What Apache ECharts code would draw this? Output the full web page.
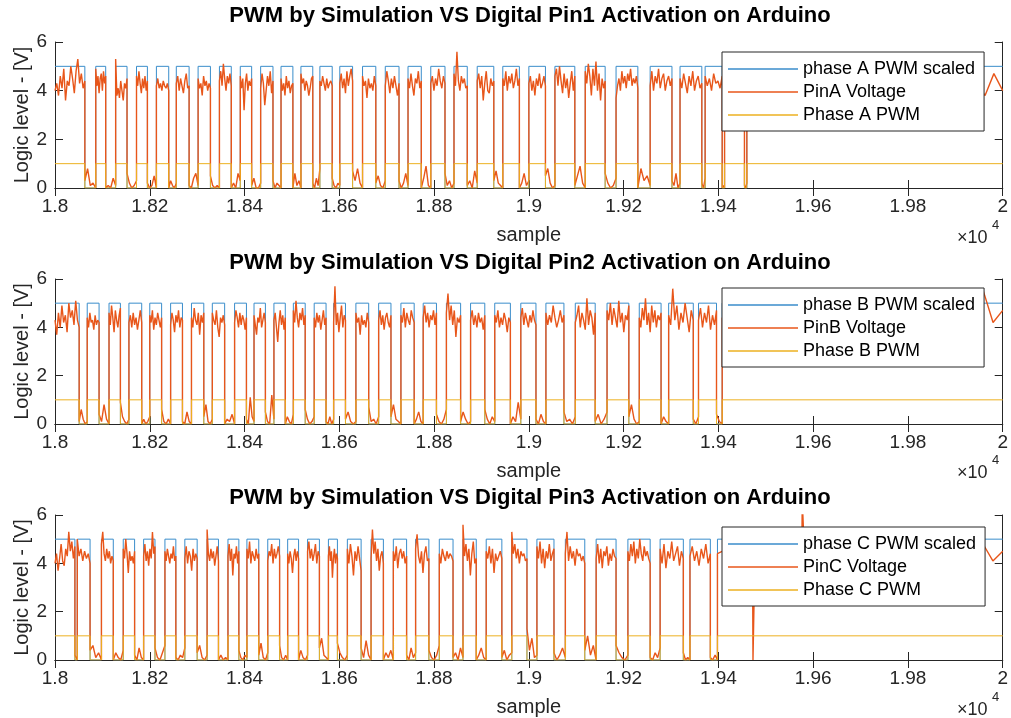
<!DOCTYPE html>
<html><head><meta charset="utf-8">
<script src="https://cdn.jsdelivr.net/npm/echarts@6/dist/echarts.min.js"></script>
<style>html,body{margin:0;padding:0;background:#fff}#c{width:1011px;height:718px}</style>
</head><body><div id="c"></div><script>
// ---------- DATA ----------
const X_MIN = 18000, X_MAX = 20000, X_STEP = 200;
const xTickLabels = ['1.8','1.82','1.84','1.86','1.88','1.9','1.92','1.94','1.96','1.98','2'];
const yTickLabels = ['0','2','4','6'];
const titles = [
  'PWM by Simulation VS Digital Pin1 Activation on Arduino',
  'PWM by Simulation VS Digital Pin2 Activation on Arduino',
  'PWM by Simulation VS Digital Pin3 Activation on Arduino'
];
const namesA = ['phase A PWM scaled','PinA Voltage','Phase A PWM'];
const namesB = ['phase B PWM scaled','PinB Voltage','Phase B PWM'];
const namesC = ['phase C PWM scaled','PinC Voltage','Phase C PWM'];

// low intervals of the PWM (sample index where it falls, where it rises again)
const gapsA = [[18063,18086],[18107,18128],[18152,18172],[18195,18214],[18240,18256],[18283,18302],[18328,18347],[18372,18391],[18415,18434],[18460,18477],[18502,18519],[18544,18559],[18585,18601],[18628,18649],[18677,18697],[18726,18745],[18773,18793],[18823,18842],[18870,18891],[18926,18945],[18980,19000],[19035,19055],[19097,19119],[19161,19184],[19230,19256],[19302,19319],[19365,19372],[19408,19413],[19455,19460]];
const gapsB = [[18051,18068],[18093,18114],[18138,18156],[18183,18200],[18225,18244],[18269,18288],[18314,18332],[18358,18379],[18404,18420],[18444,18462],[18486,18503],[18528,18547],[18572,18588],[18613,18635],[18662,18683],[18709,18730],[18758,18777],[18805,18826],[18856,18877],[18907,18928],[18961,18983],[19015,19036],[19074,19098],[19140,19165],[19211,19233],[19279,19295],[19347,19358],[19396,19408]];
const gapsC = [[18042,18047],[18074,18098],[18123,18144],[18168,18187],[18211,18232],[18255,18274],[18300,18321],[18345,18365],[18388,18405],[18430,18449],[18474,18491],[18514,18533],[18558,18577],[18596,18617],[18646,18667],[18693,18714],[18742,18761],[18789,18811],[18840,18861],[18889,18910],[18943,18964],[18996,19017],[19053,19077],[19118,19142],[19184,19209],[19256,19277],[19326,19340],[19383,19398]];

// measured pin voltages while the PWM is high (one list per high stretch)
const pinHighA = [
[4.0,4.3,3.8,4.6,4.1,4.9,3.6,4.4,4.2,5.0,4.5,3.9,4.8,5.3,4.3,4.7,4.1,4.4],
[4.9,4.2,4.6,3.9,4.5,4.7,4.0,4.8,4.3,4.6],
[5.3,3.8,4.1,3.7,4.4,4.0,3.6,4.3,4.1,4.5],
[4.6,4.2,4.8,4.3,3.9,4.5,4.1,4.6,4.0,4.4],
[4.2,4.5,4.1,4.3,4.0,4.4,4.2,4.1,4.3,4.0],
[4.3,4.6,4.0,4.5,4.2,3.9,4.4,4.7,4.1,4.2],
[4.5,4.1,4.3,3.8,4.6,4.2,4.4,4.0,4.3,4.1],
[4.4,4.8,4.2,5.1,4.5,4.0,4.6,4.3,4.7,4.2],
[4.6,4.1,4.5,3.2,4.3,4.7,4.0,4.4,4.2,4.5],
[4.1,4.7,4.3,3.4,4.0,4.6,4.2,4.8,3.9,4.4],
[4.5,4.0,4.3,3.8,4.6,4.1,4.4,3.9,4.2,4.3],
[4.7,4.3,4.5,4.0,4.4,4.2,3.8,4.1,4.5,4.6],
[4.4,4.2,4.6,4.3,4.0,4.5,4.1,4.3,4.4,4.2],
[4.3,4.7,4.1,4.5,3.9,4.8,4.2,4.6,4.9,4.4],
[4.6,4.2,4.4,3.7,4.5,4.1,4.3,4.0,4.6,4.2],
[4.2,4.8,4.4,3.9,4.5,4.1,4.6,4.2,3.8,4.3],
[4.5,4.1,4.7,4.2,3.8,4.5,4.3,4.8,4.1,4.4],
[4.3,4.6,4.0,4.5,4.2,4.9,4.4,4.1,4.6,4.3],
[4.7,4.2,5.6,4.4,4.0,4.6,4.3,4.5,4.1,4.2],
[4.4,4.7,4.1,4.6,3.6,4.3,4.8,4.0,3.9,4.5,4.2,4.4],
[4.5,4.2,4.8,4.0,4.6,4.3,4.7,4.1,4.4,4.9,4.2,4.5],
[4.3,4.6,4.0,4.4,3.8,4.5,4.2,4.7,4.1,4.3,4.6,4.2],
[4.6,4.9,4.2,5.0,4.4,3.9,4.7,4.1,4.5,3.7,4.3,4.8,4.0,4.6],
[4.8,4.3,5.1,4.6,3.8,4.9,4.2,5.2,4.0,4.7,3.6,4.5,4.1,4.4],
[3.7,4.2,4.5,4.0,4.8,4.3,4.6,4.1,4.7,4.4,4.9,4.2,4.5,4.3,4.6,4.1],
[4.2,4.8,4.0,4.6,4.3,4.9,4.1,4.5,4.7,4.0,4.4,4.6,4.2,4.5],
[4.5,4.1,4.7,4.3,3.9,4.6,4.2,4.8,4.0,4.4,4.6,4.1,4.3],
[4.6,4.2,4.5,4.0,4.7,4.3,4.4,4.1,4.6],
[4.3,4.7,4.1,4.5,4.2,4.8,4.4,4.0,4.6,4.3],
[4.2,4.6,4.0,4.5,4.3,4.7,4.1,4.4,4.6,4.2,4.5,4.0,4.3,4.7,4.4,4.1,4.6,4.3,4.5,4.2,4.8,4.4,3.9,4.6,4.2,5.4,4.3,3.8,4.7,4.0]
];
// measured pin voltages while the PWM is low
const pinLowA = [
[0.3,0.8,0.1,0.2,0.0],[0.0,0.1,0.0,0.4,0.1],[0.6,0.2,0.0,0.1,0.3],[0.2,0.0,0.1,0.5,0.0],[0.0,0.3,0.1,0.0,0.2],
[0.1,0.0,0.4,0.6,0.1],[0.5,0.1,0.0,0.1,0.0],[0.0,0.2,0.0,0.6,0.3],[0.1,0.4,0.0,0.0,0.2],[0.3,0.0,0.2,0.1,0.0],
[0.0,0.6,0.1,0.3,0.0],[0.2,0.0,0.4,0.1,0.8],[0.4,0.1,0.0,0.2,0.1],[0.7,0.3,0.8,0.2,0.0],[0.2,0.5,0.1,0.0,0.3],
[0.3,0.0,0.2,0.6,0.1],[0.0,0.4,0.9,0.1,0.0],[0.6,0.1,0.3,0.0,0.2],[0.1,0.3,0.0,0.7,0.2],[0.3,0.7,0.2,0.1,0.0],
[0.0,0.2,0.6,0.1,0.3],[0.5,0.8,0.2,0.0,0.1],[0.1,0.5,0.9,0.2,0.0],[0.6,0.2,0.0,0.1,0.4],[0.0,0.8,0.3,0.5,0.1],
[0.3,0.1,0.6,0.0,0.2],[0.2,0.0,0.4],[0.0,0.1,0.0],[0.1,0.0,0.2]
];
const pinHighB = [
[4.3,3.7,4.6,4.0,4.9,4.2,4.5,3.8,5.0,4.4,4.7,4.1,5.1,4.3,4.0],
[4.4,4.0,4.6,4.2,4.3,3.9,4.5,4.1,4.3,4.2],
[4.6,4.1,4.9,4.4,3.8,4.7,4.3,4.0,4.5,4.8],
[4.2,4.5,4.0,4.6,4.1,4.4,3.9,4.3,4.7,4.2],
[4.5,4.2,4.7,3.9,4.4,4.1,4.6,4.3,4.0,4.4],
[4.1,4.6,4.3,3.8,4.5,4.2,4.7,4.0,4.4,4.3],
[4.4,4.0,4.8,4.3,4.1,4.6,3.7,4.5,4.2,4.6],
[4.6,4.3,4.1,4.7,4.0,3.6,4.4,4.2,4.5,4.1],
[4.2,4.7,4.4,4.0,4.6,4.1,4.5,4.3,3.9,4.4],
[4.5,4.1,3.7,4.4,4.2,4.8,4.0,4.3,4.6,4.2],
[4.3,4.6,4.0,3.4,4.2,4.7,4.1,4.5,3.9,4.4],
[4.7,4.2,5.1,4.4,4.0,4.6,4.3,4.8,4.1,4.5],
[4.4,4.0,4.6,4.2,4.5,3.9,4.3,4.7,4.1,4.4],
[4.2,5.7,4.1,4.6,3.8,4.4,4.9,4.0,4.5,4.3],
[4.6,4.2,4.4,3.7,4.5,4.1,4.3,4.0,4.6,4.2],
[4.3,4.7,4.1,4.5,3.9,4.4,4.6,4.2,4.0,4.5],
[4.5,4.2,4.8,4.0,4.6,4.3,4.1,4.7,4.4,4.2],
[4.4,4.9,4.2,4.6,4.0,4.5,4.3,4.7,4.1,4.6],
[4.6,5.4,4.3,4.9,4.1,4.7,3.6,4.4,4.2,4.5],
[4.3,4.7,4.1,4.5,4.0,4.6,4.2,4.4,3.9,4.5],
[4.5,4.2,4.7,4.0,4.4,4.1,4.6,4.3,3.8,4.4,4.2],
[4.4,4.8,4.1,4.6,4.3,4.0,4.5,4.2,4.7,4.3,4.1],
[4.6,4.1,4.5,4.2,4.9,4.4,4.0,4.3,4.7,4.2,4.5],
[4.2,4.5,4.9,4.0,4.6,4.3,3.9,5.2,4.1,4.7,4.4,3.7,4.6],
[4.7,4.3,5.0,4.1,4.8,4.4,4.0,5.1,4.2,4.6,3.8,4.5,4.3,4.9],
[4.4,4.0,4.8,4.3,5.2,4.1,4.6,3.8,4.9,4.2,4.7,4.0,4.5,4.3,4.6],
[4.5,4.1,5.6,4.3,4.9,3.9,4.6,4.2,5.0,4.4,3.8,4.7,4.3],
[4.3,4.8,4.0,4.6,4.2,4.9,3.9,4.5,4.1,4.7],
[4.4,4.1,4.6,4.2,4.5,4.0,4.3,4.7,4.1,4.4,4.6,4.2,4.5,4.3,4.0,4.6,4.2,4.4,4.7,4.1,4.5,4.3,4.0,4.6,4.8,3.9,4.5,5.5,4.2,4.7]
];
const pinLowB = [
[0.1,0.6,0.2,0.0,0.1],[0.4,0.1,0.8,0.2,0.0],[0.9,0.3,0.1,0.0,0.2],[0.0,0.2,0.0,0.1,0.3],[0.6,0.1,0.0,0.2,0.0],
[0.1,0.0,0.5,0.1,0.0],[0.3,0.8,0.1,0.0,0.2],[0.0,0.2,0.1,0.4,0.0],[0.2,0.0,1.1,0.3,0.1],[0.5,0.1,0.0,1.2,0.2],
[0.0,0.3,0.1,0.0,0.4],[0.6,0.2,0.0,0.1,0.3],[0.1,0.0,0.3,0.0,0.2],[0.2,0.5,0.1,0.0,0.1],[0.7,0.1,0.2,0.0,0.3],
[0.3,0.8,0.2,0.1,0.0],[0.0,0.2,0.5,0.1,0.0],[0.4,0.1,0.0,0.2,0.6],[0.1,0.5,0.2,0.0,0.1],[0.6,0.2,0.0,0.3,0.1],
[0.0,0.3,0.1,0.9,0.2],[0.2,0.0,0.4,0.1,0.0],[0.5,0.1,0.2,0.0,0.3],[0.1,0.4,0.0,0.2,0.5],[0.3,0.8,0.2,0.0,0.1],
[0.0,0.3,0.1,0.0],[0.2,0.0,0.3],[0.4,0.1,0.0]
];
const pinHighC = [
[4.0,4.4,3.7,4.2,4.8,4.1,3.9,4.6,4.3,5.3,4.5,4.9,4.2,4.7],
[5.0,4.3,4.6,4.1,4.5,4.2,4.4,4.0],
[4.8,5.3,4.4,4.1,4.6,4.2,4.5,4.0,4.3,4.1],
[4.6,4.2,5.0,4.4,3.6,4.5,4.1,4.3,4.0,4.5],
[4.3,4.8,4.1,4.5,3.9,4.6,4.2,5.3,4.4,4.7],
[4.5,4.1,4.6,4.3,4.0,4.4,4.2,4.7,4.1,4.3],
[4.2,4.7,4.0,4.5,4.3,3.7,4.6,4.1,4.4,4.2],
[5.4,4.4,4.1,4.6,4.2,4.5,3.9,4.3,4.7,4.1],
[4.3,4.8,4.1,4.6,3.5,4.4,4.2,4.7,4.0,4.5],
[4.6,4.2,4.9,4.0,4.5,4.3,4.1,4.6,4.2,4.4],
[4.1,4.5,4.3,4.8,4.0,4.6,4.2,4.4,4.7,4.3],
[4.4,4.0,4.5,4.2,3.6,4.3,4.6,4.1,4.5,4.2],
[4.5,4.9,4.2,4.6,4.1,4.4,4.8,4.0,4.5,4.3],
[4.3,4.7,4.1,4.5,3.4,4.2,4.6,4.0,4.4,4.2],
[4.6,4.0,4.8,4.3,3.5,4.5,4.1,4.7,4.2,3.7],
[4.2,5.4,4.4,4.9,4.1,4.6,3.7,4.3,4.5,4.0],
[4.5,4.1,4.7,3.8,4.4,4.6,4.2,4.5,4.0,4.3],
[4.6,5.2,4.3,4.0,4.5,3.6,4.4,4.7,4.1,4.2],
[4.4,4.0,4.6,4.3,4.1,4.5,4.2,4.4,4.3,4.1],
[5.6,4.3,4.8,4.1,4.6,3.5,4.4,4.9,4.0,4.2],
[4.5,4.2,4.7,4.0,4.6,3.6,4.4,4.1,4.3,4.5,4.2],
[5.3,4.4,4.8,4.2,4.6,4.0,4.5,4.3,4.4,4.1,4.2],
[4.7,4.2,4.9,4.0,4.6,3.8,4.5,4.2,4.8,4.1,4.4,4.6],
[4.4,5.3,4.1,4.7,4.2,4.5,3.9,4.6,4.3,4.4,4.1,4.3,4.0],
[4.2,4.8,4.0,4.6,3.8,4.5,4.3,4.7,3.9,4.4,4.1,4.6,4.3,4.2],
[4.5,4.1,4.8,4.3,4.9,4.0,4.6,4.2,5.0,4.4,4.1,4.7,4.3,4.5,4.2,4.0],
[4.6,4.0,4.8,3.8,4.5,4.2,4.9,4.1,4.4,4.7,3.9,4.5,4.2],
[4.3,4.7,4.1,4.5,3.9,4.6,4.2,4.8,4.0,4.4],
[4.4,4.6,4.1,4.5,4.2,4.7,4.0,4.4,4.6,4.2,4.5,4.1,4.3,4.7,4.2,4.4,4.0,4.6,4.3,4.5,4.1,4.4,4.7,4.2,3.9,4.6,4.3,4.8,4.1,4.5]
];
const pinLowC = [
[0.2,0.0],[0.4,0.6,0.1,0.3,0.0],[0.0,0.3,0.1,0.0,0.4],[0.2,0.0,0.5,0.1,0.0],[0.5,0.1,0.0,0.3,0.6],
[0.1,0.0,0.2,0.1,0.5],[0.3,0.6,0.1,0.0,0.2],[0.0,0.2,0.0,0.1,0.0],[0.4,0.1,0.0,0.2,0.1],[0.2,0.7,0.1,0.0,0.3],
[0.6,0.1,0.0,0.2,0.0],[0.0,0.4,0.1,0.0,0.2],[0.5,0.9,0.2,0.1,0.0],[0.7,0.3,0.1,0.0,0.2],[0.5,0.1,0.8,0.2,0.0],
[0.0,0.3,0.1,0.4,0.0],[0.2,0.0,0.5,0.1,0.3],[0.4,0.1,0.0,0.2,0.6],[0.1,0.3,0.0,0.5,0.1],[0.0,0.2,0.5,0.1,0.0],
[0.1,0.4,0.0,0.2,0.3],[1.3,0.4,0.9,0.1,0.2],[0.3,0.0,0.2,0.5,0.1],[0.4,1.0,0.2,0.6,0.0],[0.6,0.3,0.1,0.0,0.2],
[0.1,0.0,0.3,0.1,0.5],[0.3,0.0,0.1,0.0],[0.1,0.0,0.2,0.0]
];
// isolated glitches of the measured pin voltage [sample, volts]
const glitchA = [];
const glitchB = [];
const glitchC = [[19472,4.4],[19473,0],[19476,0],[19477,4.3],[19576,4.5],[19577,6.6],[19581,6.6],[19582,4.2]];

// ---------- BUILD ----------
function build(gaps, highs, lows, glitch) {
  const b = [X_MIN];
  gaps.forEach(g => { b.push(g[0], g[1]); });
  b.push(X_MAX);
  const scaled = [], pwm = [], pin = [];
  for (let k = 0; k < b.length - 1; k++) {
    const s = b[k], e = b[k + 1], hi = (k % 2 === 0);
    const lvl = hi ? 1 : 0;
    scaled.push([s, 5 * lvl], [e, 5 * lvl]);
    pwm.push([s, lvl], [e, lvl]);
    const vals = hi ? highs[k / 2] : lows[(k - 1) / 2];
    const n = vals.length;
    for (let i = 0; i < n; i++) pin.push([s + (e - s) * i / (n - 1), vals[i]]);
  }
  const all = pin.concat(glitch).map((p, i) => [p[0], p[1], i]);
  all.sort((p, q) => p[0] - q[0] || p[2] - q[2]);
  return { scaled, pwm, pin: all.map(p => [p[0], p[1]]) };
}
const sets = [
  build(gapsA, pinHighA, pinLowA, glitchA),
  build(gapsB, pinHighB, pinLowB, glitchB),
  build(gapsC, pinHighC, pinLowC, glitchC)
];
const names = [namesA, namesB, namesC];

// ---------- CHART ----------
const FONT = '"Liberation Sans", Arial, Helvetica, sans-serif';
const AX = '#262626';
const COLORS = ['#3A8DCB', '#E8561A', '#EDB120'];
const WIDTHS = [1, 1.4, 1];
const gridTops = [42, 279, 515];
const gridHeights = [146, 145, 146];
const legendTops = [52, 288, 527];
const titleY = [16, 263, 498];
const x10Y = [229, 464, 701];

const grid = [], xAxis = [], yAxis = [], series = [], legend = [], graphic = [];
for (let i = 0; i < 3; i++) {
  grid.push({ left: 55, top: gridTops[i], width: 950, height: gridHeights[i], containLabel: false });
  const xBase = { type: 'value', gridIndex: i, min: X_MIN, max: X_MAX, interval: X_STEP,
    axisLine: { show: true, lineStyle: { color: AX, width: 1 } },
    axisTick: { show: true, inside: true, length: 8, lineStyle: { color: AX } },
    splitLine: { show: false } };
  xAxis.push(Object.assign({}, xBase, { position: 'bottom',
    axisLabel: { show: true, margin: 9, color: AX, fontFamily: FONT, fontSize: 19,
      formatter: v => xTickLabels[Math.round((v - X_MIN) / X_STEP)] },
    name: 'sample', nameLocation: 'middle', nameGap: 37, nameMoveOverlap: false,
    nameTextStyle: { color: AX, fontFamily: FONT, fontSize: 20 } }));
  xAxis.push(Object.assign({}, xBase, { position: 'top', axisLabel: { show: false } }));
  const yBase = { type: 'value', gridIndex: i, min: 0, max: 6, interval: 2,
    axisLine: { show: true, lineStyle: { color: AX, width: 1 } },
    axisTick: { show: true, inside: true, length: 8, lineStyle: { color: AX } },
    splitLine: { show: false } };
  yAxis.push(Object.assign({}, yBase, { position: 'left',
    axisLabel: { show: true, margin: 8, color: AX, fontFamily: FONT, fontSize: 19,
      formatter: v => yTickLabels[Math.round(v / 2)] },
    name: 'Logic level - [V]', nameLocation: 'middle', nameGap: 23, nameMoveOverlap: false,
    nameTextStyle: { color: AX, fontFamily: FONT, fontSize: 20 } }));
  yAxis.push(Object.assign({}, yBase, { position: 'right', axisLabel: { show: false } }));

  const d = sets[i];
  [d.scaled, d.pin, d.pwm].forEach((data, j) => {
    series.push({ type: 'line', name: names[i][j], xAxisIndex: 2 * i, yAxisIndex: 2 * i,
      data: data, symbol: 'none', showSymbol: false, sampling: null, clip: true,
      lineStyle: { color: COLORS[j], width: WIDTHS[j] }, itemStyle: { color: COLORS[j] },
      z: 2 + j, animation: false, silent: true });
  });
  legend.push({ orient: 'vertical', left: 722, top: legendTops[i], data: names[i],
    icon: 'rect', itemWidth: 70, itemHeight: 1.5, itemGap: 5, padding: [8, 9, 7, 6],
    backgroundColor: '#fff', borderColor: AX, borderWidth: 1, borderRadius: 0,
    selectedMode: false, z: 10,
    textStyle: { color: '#000', fontFamily: FONT, fontSize: 18, lineHeight: 15 } });
  graphic.push({ type: 'text', x: 530, y: titleY[i], z: 20,
    style: { text: titles[i], align: 'center', verticalAlign: 'middle',
      font: 'bold 22px ' + FONT, fill: '#000' } });
  graphic.push({ type: 'text', x: 957, y: x10Y[i], z: 20,
    style: { text: '×10', align: 'left', verticalAlign: 'top', font: '18px ' + FONT, fill: AX } });
  graphic.push({ type: 'text', x: 992, y: x10Y[i] - 10, z: 20,
    style: { text: '4', align: 'left', verticalAlign: 'top', font: '13px ' + FONT, fill: AX } });
}

const chart = echarts.init(document.getElementById('c'), null, { renderer: 'canvas' });
chart.setOption({ animation: false, backgroundColor: '#fff', grid, xAxis, yAxis, series, legend, graphic });
</script></body></html>
